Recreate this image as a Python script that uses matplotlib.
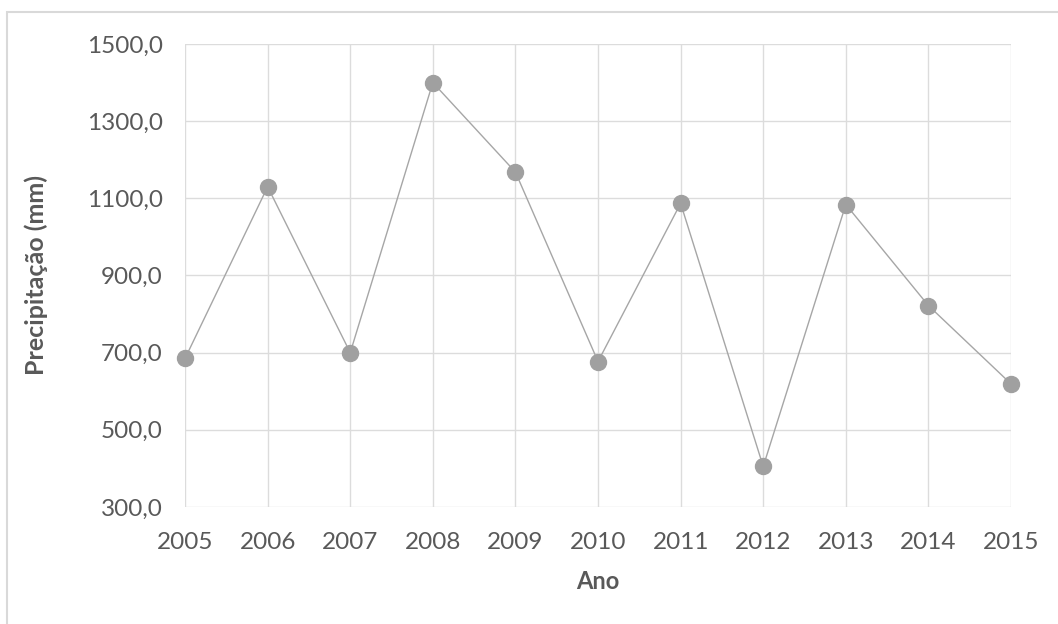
import matplotlib.pyplot as plt
from matplotlib.patches import Rectangle
from matplotlib.ticker import FuncFormatter

# === Data ===
anos = [2005, 2006, 2007, 2008, 2009, 2010, 2011, 2012, 2013, 2014, 2015]
precipitacao = [685, 1130, 700, 1400, 1168, 677, 1087, 405, 1084, 822, 619]

plt.rcParams['font.family'] = ['Lato', 'DejaVu Sans']
text_color = '#595959'

fig = plt.figure(figsize=(10.58, 6.24), dpi=100)
fig.patches.append(Rectangle((7 / 1058, -0.05), 1.1, 1.05 - 12 / 624,
                             transform=fig.transFigure, fill=False,
                             edgecolor='#d9d9d9', linewidth=1.5))

ax = fig.add_axes([0.1749, 0.1875, 0.7807, 0.742])
ax.plot(anos, precipitacao, '-o', color='#a6a6a6', linewidth=1.0,
        markersize=11.5, markerfacecolor='#a0a0a0', markeredgecolor='#a0a0a0',
        clip_on=False, zorder=3)

ax.set_xlim(2005, 2015)
ax.set_ylim(300, 1500)
ax.set_xticks(anos)
ax.set_yticks(range(300, 1501, 200))
ax.yaxis.set_major_formatter(FuncFormatter(lambda v, p: f"{v:.1f}".replace('.', ',')))

ax.grid(True, color='#dcdcdc', linewidth=1.0)
ax.set_axisbelow(True)
for s in ax.spines.values():
    s.set_visible(False)
ax.tick_params(length=0, labelsize=17.5, colors=text_color)
ax.tick_params(axis='y', pad=16)
ax.tick_params(axis='x', pad=18)

ax.set_xlabel('Ano', fontsize=17, fontweight='bold', color=text_color, labelpad=12)
ax.set_ylabel('Precipitação (mm)', fontsize=18, fontweight='bold', color=text_color, labelpad=28)

plt.savefig('out.png', dpi=100)
